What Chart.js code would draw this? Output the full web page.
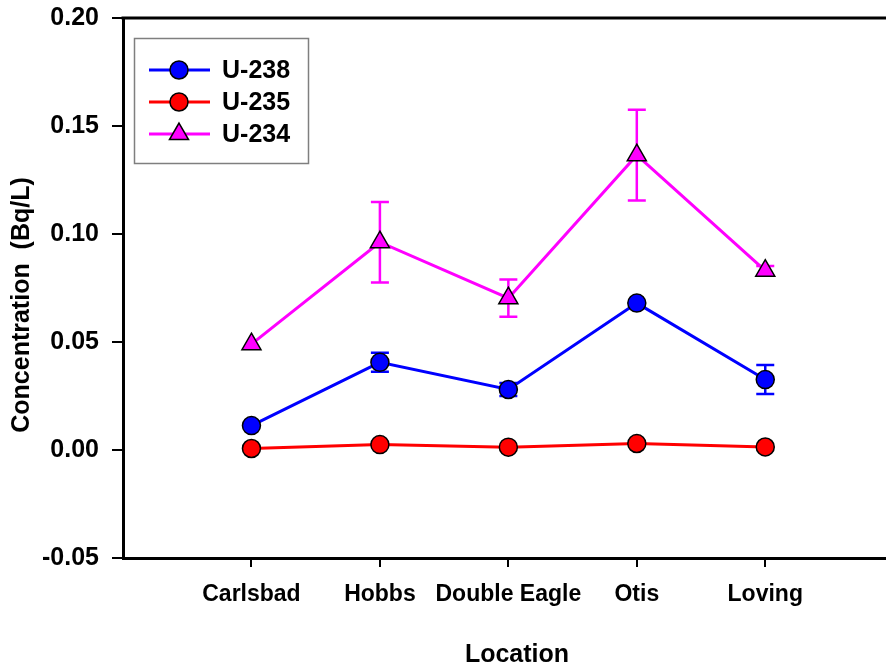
<!DOCTYPE html>
<html>

<head>
    <title>Uranium isotopes by location</title>
    <script src="https://cdn.jsdelivr.net/npm/chart.js"></script>
    <style>
        html, body { margin: 0; padding: 0; background: #fff; }
        #wrap { width: 886px; height: 666px; }
    </style>
</head>

<body>
    <div id="wrap"><canvas id="chart" width="886" height="666"></canvas></div>

    <script>
        // Chart data
        const locations = ['Carlsbad', 'Hobbs', 'Double Eagle', 'Otis', 'Loving'];
        const u238 = [0.0113, 0.0406, 0.028, 0.068, 0.0326];
        const u238Err = [0, 0.0044, 0.003, 0, 0.0067];
        const u235 = [0.0007, 0.0025, 0.0013, 0.003, 0.0014];
        const u234 = [0.049, 0.0962, 0.0703, 0.1365, 0.083];
        const u234Err = [0, 0.0186, 0.0086, 0.021, 0.0022];
        const yTicks = [-0.05, 0.00, 0.05, 0.10, 0.15, 0.20];

        const FONT = "'Liberation Sans', Arial, sans-serif";

        // turn a value list into x/y points at positions 1..n
        function toPoints(values) {
            return values.map((v, i) => ({ x: i + 1, y: v }));
        }

        // stop the scales from asking for extra room round the plot
        function noScalePadding(scale) {
            scale.paddingTop = 0;
            scale.paddingBottom = 0;
            scale.paddingLeft = 0;
            scale.paddingRight = 0;
        }

        // vertical error bars, drawn through the y scale
        const errorBars = {
            id: 'errorBars',
            beforeDatasetsDraw(chart) {
                const ctx = chart.ctx;
                const yScale = chart.scales.y;
                chart.data.datasets.forEach((ds, di) => {
                    if (!ds.errors) return;
                    const meta = chart.getDatasetMeta(di);
                    ctx.save();
                    ctx.strokeStyle = ds.borderColor;
                    ctx.lineWidth = 2.5;
                    ds.errors.forEach((e, i) => {
                        if (!e) return;
                        const x = meta.data[i].x;
                        const v = ds.data[i].y;
                        const top = yScale.getPixelForValue(v + e);
                        const bot = yScale.getPixelForValue(v - e);
                        ctx.beginPath();
                        ctx.moveTo(x, top); ctx.lineTo(x, bot);
                        ctx.moveTo(x - 9, top); ctx.lineTo(x + 9, top);
                        ctx.moveTo(x - 9, bot); ctx.lineTo(x + 9, bot);
                        ctx.stroke();
                    });
                    ctx.restore();
                });
            }
        };

        // top frame line, axis titles and the boxed legend
        const frameAndLegend = {
            id: 'frameAndLegend',
            afterDraw(chart) {
                const ctx = chart.ctx;
                const area = chart.chartArea;
                ctx.save();
                ctx.strokeStyle = '#000';
                ctx.lineWidth = 3;
                ctx.beginPath();
                ctx.moveTo(area.left - 1.5, area.top);
                ctx.lineTo(chart.width, area.top);
                ctx.stroke();

                // axis titles
                ctx.fillStyle = '#000';
                ctx.textAlign = 'center';
                ctx.textBaseline = 'middle';
                ctx.font = 'bold 25px ' + FONT;
                ctx.fillText('Location', 517, 655);
                ctx.save();
                ctx.translate(22, 305);
                ctx.rotate(-Math.PI / 2);
                ctx.font = 'bold 25px ' + FONT;
                ctx.fillText('Concentration  (Bq/L)', 0, 0);
                ctx.restore();

                // legend box
                ctx.strokeStyle = '#7f7f7f';
                ctx.lineWidth = 1.5;
                ctx.strokeRect(134.5, 38.5, 174, 125);

                const rows = [70, 102, 134];
                chart.data.datasets.forEach((ds, i) => {
                    const y = rows[i];
                    ctx.strokeStyle = ds.borderColor;
                    ctx.lineWidth = 3;
                    ctx.beginPath();
                    ctx.moveTo(149, y);
                    ctx.lineTo(210, y);
                    ctx.stroke();
                    ctx.fillStyle = ds.pointBackgroundColor;
                    ctx.strokeStyle = '#000';
                    ctx.lineWidth = ds.pointBorderWidth;
                    ctx.beginPath();
                    if (ds.pointStyle === 'triangle') {
                        const r = ds.pointRadius;
                        ctx.moveTo(179, y - r);
                        ctx.lineTo(179 + r * Math.sin(Math.PI * 2 / 3), y - r * Math.cos(Math.PI * 2 / 3));
                        ctx.lineTo(179 - r * Math.sin(Math.PI * 2 / 3), y - r * Math.cos(Math.PI * 2 / 3));
                        ctx.closePath();
                    } else {
                        ctx.arc(179, y, ds.pointRadius, 0, Math.PI * 2);
                    }
                    ctx.fill();
                    ctx.stroke();

                    ctx.fillStyle = '#000';
                    ctx.font = 'bold 25px ' + FONT;
                    ctx.textAlign = 'left';
                    ctx.textBaseline = 'middle';
                    ctx.fillText(ds.label, 222, y + 1);
                });
                ctx.restore();
            }
        };

        function series(label, values, errors, color, style, radius) {
            return {
                label: label,
                data: toPoints(values),
                errors: errors,
                borderColor: color,
                borderWidth: 3,
                pointStyle: style,
                pointRadius: radius,
                pointHoverRadius: radius,
                pointBackgroundColor: color,
                pointBorderColor: '#000',
                pointBorderWidth: 1.5,
                tension: 0
            };
        }

        const ctx = document.getElementById('chart').getContext('2d');
        const chart = new Chart(ctx, {
            type: 'line',
            data: {
                datasets: [
                    series('U-238', u238, u238Err, '#0000ff', 'circle', 9),
                    series('U-235', u235, null, '#ff0000', 'circle', 9),
                    series('U-234', u234, u234Err, '#ff00ff', 'triangle', 11)
                ]
            },
            options: {
                responsive: false,
                animation: false,
                layout: {
                    autoPadding: false,
                    padding: { top: 18, right: 0, left: 0, bottom: 0 }
                },
                plugins: {
                    legend: { display: false },
                    tooltip: { enabled: false }
                },
                scales: {
                    x: {
                        type: 'linear',
                        min: 0,
                        max: 5.94,
                        afterBuildTicks(scale) {
                            scale.ticks = locations.map((_, i) => ({ value: i + 1 }));
                        },
                        afterFit(scale) {
                            scale.height = 108;
                            noScalePadding(scale);
                        },
                        grid: {
                            drawOnChartArea: false,
                            drawTicks: true,
                            tickLength: 9,
                            color: '#000',
                            lineWidth: 2
                        },
                        border: { display: true, color: '#000', width: 3 },
                        ticks: {
                            autoSkip: false,
                            maxRotation: 0,
                            padding: 14,
                            color: '#000',
                            font: { family: FONT, size: 23, weight: 'bold' },
                            callback: (v) => locations[v - 1] || ''
                        }
                    },
                    y: {
                        min: -0.05,
                        max: 0.20,
                        afterBuildTicks(scale) {
                            scale.ticks = yTicks.map(v => ({ value: v }));
                        },
                        afterFit(scale) {
                            scale.width = 123;
                            noScalePadding(scale);
                        },
                        grid: {
                            drawOnChartArea: false,
                            drawTicks: true,
                            tickLength: 11,
                            color: '#000',
                            lineWidth: 2
                        },
                        border: { display: true, color: '#000', width: 3 },
                        ticks: {
                            padding: 13,
                            color: '#000',
                            font: { family: FONT, size: 25, weight: 'bold' },
                            callback: (v) => v.toFixed(2)
                        }
                    }
                }
            },
            plugins: [errorBars, frameAndLegend]
        });
    </script>
</body>

</html>
